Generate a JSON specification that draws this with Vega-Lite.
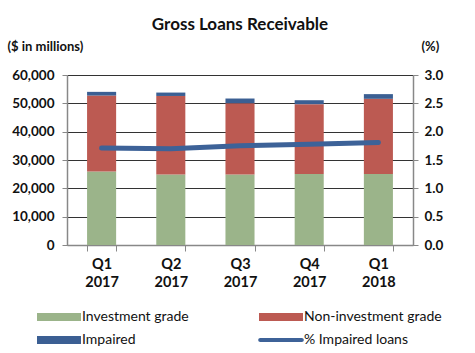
{
  "$schema": "https://vega.github.io/schema/vega-lite/v6.json",
  "width": 346,
  "height": 170,
  "autosize": "none",
  "padding": {"left": 67, "top": 75, "right": 62, "bottom": 108},
  "background": "white",
  "config": {
    "font": "Lato",
    "view": {"stroke": null},
    "axis": {"labelFont": "Lato", "titleFont": "Lato"}
  },
  "title": {
    "text": "Gross Loans Receivable",
    "font": "Lato",
    "fontSize": 17,
    "fontWeight": "bold",
    "color": "#111111",
    "anchor": "middle",
    "offset": 6
  },
  "datasets": {
    "bars": [
      {"quarter": "Q1 2017", "category": "Investment grade", "ord": 1, "value": 25900},
      {"quarter": "Q1 2017", "category": "Non-investment grade", "ord": 2, "value": 26850},
      {"quarter": "Q1 2017", "category": "Impaired", "ord": 3, "value": 1300},
      {"quarter": "Q2 2017", "category": "Investment grade", "ord": 1, "value": 24900},
      {"quarter": "Q2 2017", "category": "Non-investment grade", "ord": 2, "value": 27700},
      {"quarter": "Q2 2017", "category": "Impaired", "ord": 3, "value": 1200},
      {"quarter": "Q3 2017", "category": "Investment grade", "ord": 1, "value": 24900},
      {"quarter": "Q3 2017", "category": "Non-investment grade", "ord": 2, "value": 25150},
      {"quarter": "Q3 2017", "category": "Impaired", "ord": 3, "value": 1650},
      {"quarter": "Q4 2017", "category": "Investment grade", "ord": 1, "value": 25050},
      {"quarter": "Q4 2017", "category": "Non-investment grade", "ord": 2, "value": 24650},
      {"quarter": "Q4 2017", "category": "Impaired", "ord": 3, "value": 1400},
      {"quarter": "Q1 2018", "category": "Investment grade", "ord": 1, "value": 25050},
      {"quarter": "Q1 2018", "category": "Non-investment grade", "ord": 2, "value": 26550},
      {"quarter": "Q1 2018", "category": "Impaired", "ord": 3, "value": 1650}
    ],
    "pct": [
      {"quarter": "Q1 2017", "pct": 1.71},
      {"quarter": "Q2 2017", "pct": 1.70},
      {"quarter": "Q3 2017", "pct": 1.75},
      {"quarter": "Q4 2017", "pct": 1.78},
      {"quarter": "Q1 2018", "pct": 1.81}
    ]
  },
  "layer": [
    {
      "data": {"name": "bars"},
      "mark": {"type": "bar"},
      "encoding": {
        "x": {
          "field": "quarter",
          "type": "nominal",
          "sort": null,
          "scale": {"paddingInner": 0.58, "paddingOuter": 0.29},
          "axis": {
            "title": null,
            "labelAngle": 0,
            "labelExpr": "split(datum.label, ' ')",
            "labelFontSize": 14.5,
            "labelFontWeight": "bold",
            "labelColor": "#111111",
            "labelPadding": 6,
            "labelLineHeight": 18,
            "domainColor": "#888888",
            "domainWidth": 1.5,
            "tickColor": "#888888",
            "tickBand": "extent",
            "tickSize": 6,
            "grid": false
          }
        },
        "y": {
          "field": "value",
          "type": "quantitative",
          "aggregate": "sum",
          "stack": "zero",
          "scale": {"domain": [0, 60000], "nice": false},
          "axis": {
            "title": "($ in millions)",
            "titleAngle": 0,
            "titleAlign": "left",
            "titleBaseline": "alphabetic",
            "titleX": -60,
            "titleY": -25,
            "titleFontSize": 13,
            "titleFontWeight": "bold",
            "titleColor": "#111111",
            "values": [0, 10000, 20000, 30000, 40000, 50000, 60000],
            "format": ",d",
            "labelFontSize": 13.5,
            "labelFontWeight": "bold",
            "labelColor": "#111111",
            "labelPadding": 8,
            "domainColor": "#888888",
            "domainWidth": 1.5,
            "tickColor": "#888888",
            "tickSize": 5,
            "grid": true,
            "gridColor": "#333333",
            "gridWidth": 1
          }
        },
        "color": {
          "field": "category",
          "type": "nominal",
          "scale": {
            "domain": ["Investment grade", "Non-investment grade", "Impaired", "% Impaired loans"],
            "range": ["#9bb48a", "#bc5a52", "#3b5f93", "#3d6298"]
          },
          "legend": {
            "title": null,
            "orient": "none",
            "legendX": -15,
            "legendY": 235,
            "direction": "horizontal",
            "columns": 2,
            "columnPadding": 69,
            "rowPadding": 9,
            "padding": 0,
            "symbolType": "M-5.5,-1H5.5V1H-5.5Z",
            "symbolSize": 64,
            "symbolStrokeWidth": 0,
            "symbolOpacity": 1,
            "labelFontSize": 14,
            "labelColor": "#111111",
            "labelOffset": 16,
            "labelLimit": 300,
            "encode": {
              "symbols": {
                "update": {
                  "shape": {"signal": "datum.value === '% Impaired loans' ? 'M-5.2,-0.5H5.2A0.5,0.5 0 0 1 5.2,0.5H-5.2A0.5,0.5 0 0 1 -5.2,-0.5Z' : 'M-5.5,-1H5.5V1H-5.5Z'"}
                }
              }
            }
          }
        },
        "order": {"field": "ord", "type": "quantitative"}
      }
    },
    {
      "data": {"name": "pct"},
      "mark": {"type": "line", "strokeWidth": 5, "strokeCap": "round"},
      "encoding": {
        "x": {"field": "quarter", "type": "nominal", "sort": null},
        "y": {
          "field": "pct",
          "type": "quantitative",
          "scale": {"domain": [0, 3], "nice": false},
          "axis": {
            "orient": "right",
            "title": "(%)",
            "titleAngle": 0,
            "titleAlign": "left",
            "titleBaseline": "alphabetic",
            "titleX": 8,
            "titleY": -25,
            "titleFontSize": 13,
            "titleFontWeight": "bold",
            "titleColor": "#111111",
            "values": [0, 0.5, 1, 1.5, 2, 2.5, 3],
            "format": ".1f",
            "labelFontSize": 13.5,
            "labelFontWeight": "bold",
            "labelColor": "#111111",
            "labelPadding": 6,
            "domainColor": "#888888",
            "domainWidth": 1.5,
            "tickColor": "#888888",
            "tickSize": 5,
            "grid": false
          }
        },
        "color": {"datum": "% Impaired loans", "type": "nominal"}
      }
    }
  ],
  "resolve": {"scale": {"y": "independent"}}
}
